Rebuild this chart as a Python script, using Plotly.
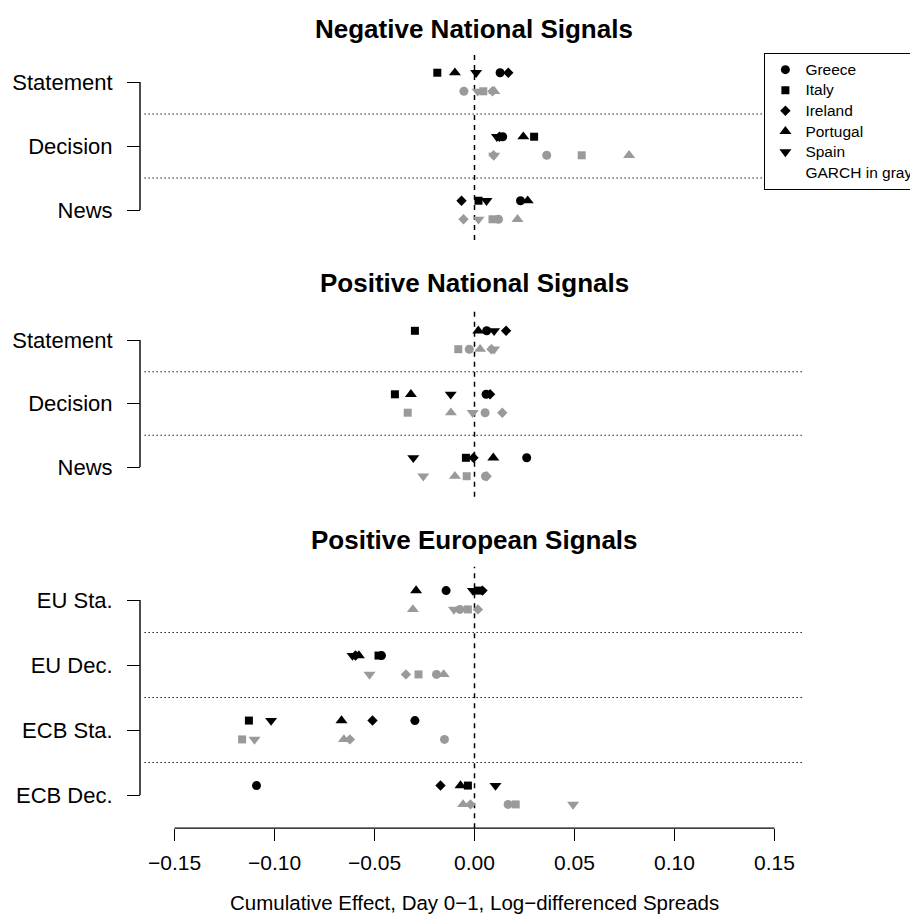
import plotly.graph_objects as go

# ---------------- data ----------------
COUNTRIES = ["Greece", "Italy", "Ireland", "Portugal", "Spain"]

neg_rows = ["Statement", "Decision", "News"]
neg_ols = {
    "Greece":   [0.0128, 0.0141, 0.0230],
    "Italy":    [-0.0186, 0.0298, 0.0020],
    "Ireland":  [0.0169, 0.0125, -0.0065],
    "Portugal": [-0.0098, 0.0244, 0.0266],
    "Spain":    [0.0008, 0.0112, 0.0060],
}
neg_garch = {
    "Greece":   [-0.0053, 0.0361, 0.0120],
    "Italy":    [0.0044, 0.0536, 0.0090],
    "Ireland":  [0.0090, 0.0095, -0.0055],
    "Portugal": [0.0099, 0.0773, 0.0215],
    "Spain":    [0.0016, 0.0098, 0.0020],
}

posnat_rows = ["Statement", "Decision", "News"]
posnat_ols = {
    "Greece":   [0.0061, 0.0058, 0.0261],
    "Italy":    [-0.0298, -0.0398, -0.0043],
    "Ireland":  [0.0158, 0.0078, -0.0005],
    "Portugal": [0.0019, -0.0318, 0.0094],
    "Spain":    [0.0098, -0.0119, -0.0306],
}
posnat_garch = {
    "Greece":   [-0.0026, 0.0053, 0.0055],
    "Italy":    [-0.0081, -0.0334, -0.0039],
    "Ireland":  [0.0085, 0.0139, 0.0061],
    "Portugal": [0.0028, -0.0118, -0.0098],
    "Spain":    [0.0098, -0.0009, -0.0256],
}

poseu_rows = ["EU Sta.", "EU Dec.", "ECB Sta.", "ECB Dec."]
poseu_ols = {
    "Greece":   [-0.0142, -0.0465, -0.0298, -0.1090],
    "Italy":    [0.0020, -0.0480, -0.1128, -0.0033],
    "Ireland":  [0.0040, -0.0595, -0.0510, -0.0170],
    "Portugal": [-0.0292, -0.0578, -0.0665, -0.0070],
    "Spain":    [-0.0008, -0.0610, -0.1017, 0.0105],
}
poseu_garch = {
    "Greece":   [-0.0073, -0.0190, -0.0150, 0.0168],
    "Italy":    [-0.0033, -0.0280, -0.1162, 0.0206],
    "Ireland":  [0.0017, -0.0343, -0.0623, -0.0020],
    "Portugal": [-0.0308, -0.0154, -0.0653, -0.0057],
    "Spain":    [-0.0103, -0.0525, -0.1100, 0.0493],
}

x_tickvals = [-0.15, -0.10, -0.05, 0.00, 0.05, 0.10, 0.15]
x_ticktext = ["\u22120.15", "\u22120.10", "\u22120.05", "0.00", "0.05", "0.10", "0.15"]

# ---------------- styling ----------------
BODY = 8                      # browser default body margin
W, H = 918 - BODY, 922 - BODY
FONT = "Liberation Sans, Arial, Helvetica, sans-serif"
GRAY = "#9a9a9a"
SYMBOLS = {"Greece": "circle", "Italy": "square", "Ireland": "diamond",
           "Portugal": "triangle-up", "Spain": "triangle-down"}
SIZES = {"Greece": 9, "Italy": 8, "Ireland": 8, "Portugal": 10.5, "Spain": 10.5}
OFF = 0.145
LEG_TXT = "<span style='font-size:15.5px'>{}</span>"

panels = [
    dict(title="Negative National Signals", rows=neg_rows, ols=neg_ols, garch=neg_garch,
         top_px=82, spacing=64, pad=0.47, title_px=29),
    dict(title="Positive National Signals", rows=posnat_rows, ols=posnat_ols, garch=posnat_garch,
         top_px=340, spacing=63.5, pad=0.47, title_px=283),
    dict(title="Positive European Signals", rows=poseu_rows, ols=poseu_ols, garch=poseu_garch,
         top_px=600, spacing=65, pad=0.51, title_px=540),
]

X0_PX, X1_PX = 144.5, 804.5
XR = [-0.165, 0.165]
YAX_PX = 140


def pxx(p):
    return (p - BODY) / W


def py(p):
    return 1 - (p - BODY) / H


fig = go.Figure()
shapes = []
annotations = []
layout_axes = {}

for pi, P in enumerate(panels):
    sfx = "" if pi == 0 else str(pi + 1)
    xa, ya = "x" + sfx, "y" + sfx
    n = len(P["rows"])
    ypos = [n - k for k in range(n)]
    for model, color, off in (("ols", "black", OFF), ("garch", GRAY, -OFF)):
        for c in COUNTRIES:
            fig.add_trace(go.Scatter(
                x=P[model][c], y=[v + off for v in ypos], mode="markers",
                marker=dict(symbol=SYMBOLS[c], size=SIZES[c], color=color, line=dict(width=0)),
                xaxis=xa, yaxis=ya, name=LEG_TXT.format(c), legendgroup=c,
                showlegend=(pi == 0 and model == "ols"), cliponaxis=False, hoverinfo="skip"))

    top = P["top_px"] - P["pad"] * P["spacing"]
    bot = P["top_px"] + (n - 1 + P["pad"]) * P["spacing"]
    last = pi == len(panels) - 1
    layout_axes["xaxis" + sfx] = dict(
        domain=[pxx(X0_PX), pxx(X1_PX)], range=XR, anchor=ya,
        showgrid=False, zeroline=False, showline=False,
        showticklabels=last, ticks="outside" if last else "",
        tickvals=x_tickvals, ticktext=x_ticktext, ticklen=12, tickwidth=1.4,
        tickcolor="black", tickfont=dict(size=21, color="black"), ticklabelstandoff=4)
    layout_axes["yaxis" + sfx] = dict(
        domain=[py(bot), py(top)], range=[1 - P["pad"], n + P["pad"]],
        anchor="free", position=pxx(YAX_PX),
        showgrid=False, zeroline=False, showline=False,
        tickvals=ypos, ticktext=P["rows"], ticks="outside", ticklen=13, tickwidth=1.4,
        tickcolor="black", tickfont=dict(size=22, color="black"), ticklabelstandoff=10)

    # zero reference line
    shapes.append(dict(type="line", xref=xa, yref=ya + " domain", x0=0, x1=0, y0=0, y1=1,
                       line=dict(color="black", width=1.5, dash="5px,5px"), layer="below"))
    # dotted separators between rows
    for k in range(1, n):
        ym = k + 0.5
        shapes.append(dict(type="line", xref=xa + " domain", yref=ya, x0=0, x1=1, y0=ym, y1=ym,
                           line=dict(color="black", width=1.2, dash="1.3px,2.7px"), layer="below"))
    # y-axis bracket line
    shapes.append(dict(type="line", xref="paper", yref=ya, x0=pxx(YAX_PX), x1=pxx(YAX_PX),
                       y0=1, y1=n, line=dict(color="black", width=1.4)))
    # panel title
    annotations.append(dict(text="<b>" + P["title"] + "</b>", xref="paper", yref="paper",
                            x=pxx((X0_PX + X1_PX) / 2), y=py(P["title_px"]),
                            xanchor="center", yanchor="middle", showarrow=False,
                            font=dict(size=26, color="black", family=FONT)))

# bottom axis line spanning the tick range
shapes.append(dict(type="line", xref="x3", yref="y3 domain", x0=x_tickvals[0], x1=x_tickvals[-1],
                   y0=0, y1=0, line=dict(color="black", width=1.4)))

annotations.append(dict(text="Cumulative Effect, Day 0\u22121, Log\u2212differenced Spreads",
                        xref="paper", yref="paper", x=pxx((X0_PX + X1_PX) / 2), y=py(902),
                        xanchor="center", yanchor="middle", showarrow=False,
                        font=dict(size=20.5, color="black", family=FONT)))

# legend-only entry for the GARCH note
fig.add_trace(go.Scatter(x=[None], y=[None], mode="markers", name=LEG_TXT.format("GARCH in gray"),
                         marker=dict(color="rgba(0,0,0,0)", size=8), showlegend=True,
                         hoverinfo="skip"))

fig.update_layout(
    width=W, height=H,
    margin=dict(l=0, r=0, t=0, b=0, autoexpand=False),
    paper_bgcolor="white", plot_bgcolor="white",
    font=dict(family=FONT, color="black"),
    showlegend=True,
    legend=dict(x=pxx(764), y=py(53), xanchor="left", yanchor="top",
                bgcolor="white", bordercolor="black", borderwidth=1.4,
                font=dict(size=13.5, color="black", family=FONT),
                traceorder="normal", tracegroupgap=0, itemsizing="trace"),
    shapes=shapes, annotations=annotations,
    **layout_axes,
)

fig.write_html("out.html")
